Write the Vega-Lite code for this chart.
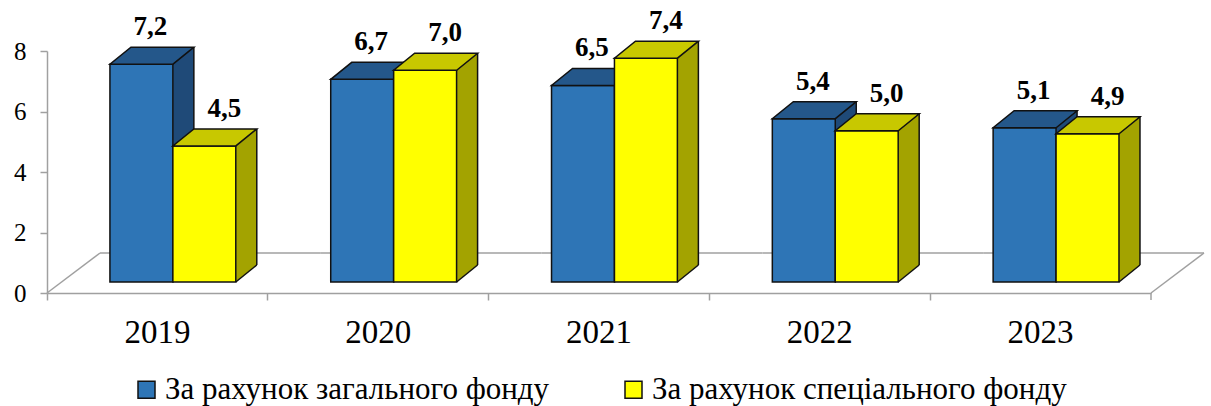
{
  "$schema": "https://vega.github.io/schema/vega-lite/v6.json",
  "width": 1104,
  "height": 242,
  "autosize": {"type": "none"},
  "padding": {"left": 47, "top": 51, "right": 60, "bottom": 113},
  "background": "white",
  "config": {
    "view": {"stroke": null},
    "locale": {"number": {"decimal": ",", "thousands": " ", "grouping": [3], "currency": ["", " грн"]}},
    "scale": {"bandPaddingInner": 0, "bandPaddingOuter": 0},
    "axisX": {"bandPosition": 0, "domainColor": "#A0A0A0", "domainWidth": 1.5, "tickColor": "#A0A0A0", "tickWidth": 1.5, "tickSize": 7, "labelFont": "Liberation Serif", "labelFontSize": 33, "labelColor": "#000000", "labelPadding": 16, "labelAngle": 0, "grid": false},
    "axisY": {"domainColor": "#A0A0A0", "domainWidth": 1.5, "tickColor": "#A0A0A0", "tickWidth": 1.5, "tickSize": 7, "labelFont": "Liberation Serif", "labelFontSize": 25, "labelColor": "#000000", "labelPadding": 14, "grid": false}
  },
  "data": {"values": [
    {"year": "2019", "fund": "За рахунок загального фонду", "value": 7.2},
    {"year": "2019", "fund": "За рахунок спеціального фонду", "value": 4.5},
    {"year": "2020", "fund": "За рахунок загального фонду", "value": 6.7},
    {"year": "2020", "fund": "За рахунок спеціального фонду", "value": 7.0},
    {"year": "2021", "fund": "За рахунок загального фонду", "value": 6.5},
    {"year": "2021", "fund": "За рахунок спеціального фонду", "value": 7.4},
    {"year": "2022", "fund": "За рахунок загального фонду", "value": 5.4},
    {"year": "2022", "fund": "За рахунок спеціального фонду", "value": 5.0},
    {"year": "2023", "fund": "За рахунок загального фонду", "value": 5.1},
    {"year": "2023", "fund": "За рахунок спеціального фонду", "value": 4.9}
  ]},
  "layer": [
    {
      "transform": [{"filter": {"field": "fund", "equal": "За рахунок загального фонду"}}, {"filter": {"field": "year", "equal": "2019"}}],
      "mark": {"type": "rule", "color": "#A0A0A0", "strokeWidth": 1.5, "x2Offset": 53, "y2Offset": -40},
      "encoding": {
        "x": {"field": "year", "type": "nominal", "bandPosition": 0, "title": null},
        "x2": {"field": "year", "bandPosition": 0},
        "y": {"datum": 0, "type": "quantitative", "title": null, "scale": {"domain": [0, 8], "nice": false},
          "axis": {"values": [0, 2, 4, 6, 8], "labelFont": "Liberation Serif", "labelFontSize": 25, "labelColor": "#000000", "labelPadding": 14, "tickSize": 7, "tickColor": "#A0A0A0", "domainColor": "#A0A0A0"}},
        "y2": {"datum": 0}
      }
    },
    {
      "transform": [{"filter": {"field": "fund", "equal": "За рахунок загального фонду"}}],
      "mark": {"type": "rule", "color": "#A0A0A0", "strokeWidth": 1.5, "xOffset": 53, "x2Offset": 53, "yOffset": -40, "y2Offset": -40},
      "encoding": {
        "x": {"field": "year", "type": "nominal", "bandPosition": 0, "title": null},
        "x2": {"field": "year", "bandPosition": 1},
        "y": {"datum": 0, "type": "quantitative", "title": null},
        "y2": {"datum": 0}
      }
    },
    {
      "transform": [{"filter": {"field": "fund", "equal": "За рахунок загального фонду"}}, {"filter": {"field": "year", "equal": "2023"}}],
      "mark": {"type": "rule", "color": "#A0A0A0", "strokeWidth": 1.5, "x2Offset": 53, "y2Offset": -40},
      "encoding": {
        "x": {"field": "year", "type": "nominal", "bandPosition": 1, "title": null},
        "x2": {"field": "year", "bandPosition": 1},
        "y": {"datum": 0, "type": "quantitative", "title": null},
        "y2": {"datum": 0}
      }
    },
    {
      "transform": [{"filter": {"field": "fund", "equal": "За рахунок загального фонду"}}, {"filter": {"field": "year", "equal": "2023"}}],
      "mark": {"type": "rule", "color": "#A0A0A0", "strokeWidth": 1.5, "y2Offset": 7},
      "encoding": {
        "x": {"field": "year", "type": "nominal", "bandPosition": 1, "title": null},
        "y": {"datum": 0, "type": "quantitative", "title": null},
        "y2": {"datum": 0}
      }
    },

    {
      "transform": [{"filter": {"field": "fund", "equal": "За рахунок загального фонду"}}],
      "mark": {"type": "bar", "fill": "#1F4A78", "strokeWidth": 0, "x2Offset": 21, "yOffset": -28, "y2Offset": -28},
      "encoding": {
        "x": {"field": "year", "type": "nominal", "bandPosition": 0.57, "title": null},
        "x2": {"field": "year", "bandPosition": 0.57},
        "y": {"field": "value", "type": "quantitative", "title": null},
        "y2": {"datum": 0}
      }
    },
    {
      "transform": [{"filter": {"field": "fund", "equal": "За рахунок загального фонду"}}],
      "mark": {"type": "point", "shape": "M0,0 L21,-17 L0,-17 Z", "size": 4, "filled": true, "fill": "#1F4A78", "strokeWidth": 0, "opacity": 1, "yOffset": -11},
      "encoding": {
        "x": {"field": "year", "type": "nominal", "bandPosition": 0.57, "title": null},
        "y": {"datum": 0, "type": "quantitative", "title": null}
      }
    },
    {
      "transform": [{"filter": {"field": "fund", "equal": "За рахунок загального фонду"}}],
      "mark": {"type": "bar", "stroke": "#111111", "strokeWidth": 1.5, "yOffset": -11, "y2Offset": -11},
      "encoding": {
        "x": {"field": "year", "type": "nominal", "bandPosition": 0.285, "title": null},
        "x2": {"field": "year", "bandPosition": 0.57},
        "y": {"field": "value", "type": "quantitative", "title": null},
        "y2": {"datum": 0},
        "color": {"field": "fund", "type": "nominal", "title": null,
          "scale": {"domain": ["За рахунок загального фонду", "За рахунок спеціального фонду"], "range": ["#2E75B6", "#FFFF00"]},
          "legend": {"orient": "none", "legendX": 84, "legendY": 323, "direction": "horizontal", "columns": 2, "columnPadding": 68, "padding": 0, "symbolType": "square", "symbolSize": 289, "symbolStrokeColor": "#111111", "symbolStrokeWidth": 1.5, "labelFont": "Liberation Serif", "labelFontSize": 31, "labelColor": "#000000", "labelLimit": 0, "labelOffset": 3}}
      }
    },
    {
      "transform": [{"filter": {"field": "fund", "equal": "За рахунок загального фонду"}}],
      "mark": {"type": "point", "shape": "M0,0 L63,0 L84,-17 L21,-17 Z", "size": 4, "filled": true, "fill": "#24578A", "stroke": "#111111", "strokeWidth": 1.5, "opacity": 1, "yOffset": -11},
      "encoding": {
        "x": {"field": "year", "type": "nominal", "bandPosition": 0.285, "title": null},
        "y": {"field": "value", "type": "quantitative", "title": null}
      }
    },
    {
      "transform": [{"filter": {"field": "fund", "equal": "За рахунок загального фонду"}}],
      "mark": {"type": "rule", "color": "#111111", "strokeWidth": 1.5, "xOffset": 21, "yOffset": -28, "y2Offset": -28},
      "encoding": {
        "x": {"field": "year", "type": "nominal", "bandPosition": 0.57, "title": null},
        "y": {"field": "value", "type": "quantitative", "title": null},
        "y2": {"datum": 0}
      }
    },
    {
      "transform": [{"filter": {"field": "fund", "equal": "За рахунок загального фонду"}}],
      "mark": {"type": "point", "shape": "M0,0 L21,-17", "size": 4, "filled": false, "stroke": "#111111", "strokeWidth": 1.5, "opacity": 1, "yOffset": -11},
      "encoding": {
        "x": {"field": "year", "type": "nominal", "bandPosition": 0.57, "title": null},
        "y": {"datum": 0, "type": "quantitative", "title": null}
      }
    },
    {
      "transform": [{"filter": {"field": "fund", "equal": "За рахунок загального фонду"}}],
      "mark": {"type": "text", "font": "Liberation Serif", "fontWeight": "bold", "fontSize": 27, "color": "#000000", "align": "center", "baseline": "alphabetic", "dx": 9, "dy": -40},
      "encoding": {
        "x": {"field": "year", "type": "nominal", "bandPosition": 0.4275, "title": null},
        "y": {"field": "value", "type": "quantitative", "title": null},
        "text": {"field": "value", "type": "quantitative", "format": ".1f"}
      }
    },

    {
      "transform": [{"filter": {"field": "fund", "equal": "За рахунок спеціального фонду"}}],
      "mark": {"type": "bar", "fill": "#A3A300", "strokeWidth": 0, "x2Offset": 21, "yOffset": -28, "y2Offset": -28},
      "encoding": {
        "x": {"field": "year", "type": "nominal", "bandPosition": 0.855, "title": null},
        "x2": {"field": "year", "bandPosition": 0.855},
        "y": {"field": "value", "type": "quantitative", "title": null},
        "y2": {"datum": 0}
      }
    },
    {
      "transform": [{"filter": {"field": "fund", "equal": "За рахунок спеціального фонду"}}],
      "mark": {"type": "point", "shape": "M0,0 L21,-17 L0,-17 Z", "size": 4, "filled": true, "fill": "#A3A300", "strokeWidth": 0, "opacity": 1, "yOffset": -11},
      "encoding": {
        "x": {"field": "year", "type": "nominal", "bandPosition": 0.855, "title": null},
        "y": {"datum": 0, "type": "quantitative", "title": null}
      }
    },
    {
      "transform": [{"filter": {"field": "fund", "equal": "За рахунок спеціального фонду"}}],
      "mark": {"type": "bar", "stroke": "#111111", "strokeWidth": 1.5, "yOffset": -11, "y2Offset": -11},
      "encoding": {
        "x": {"field": "year", "type": "nominal", "bandPosition": 0.57, "title": null},
        "x2": {"field": "year", "bandPosition": 0.855},
        "y": {"field": "value", "type": "quantitative", "title": null},
        "y2": {"datum": 0},
        "color": {"field": "fund", "type": "nominal", "title": null}
      }
    },
    {
      "transform": [{"filter": {"field": "fund", "equal": "За рахунок спеціального фонду"}}],
      "mark": {"type": "point", "shape": "M0,0 L63,0 L84,-17 L21,-17 Z", "size": 4, "filled": true, "fill": "#C8C800", "stroke": "#111111", "strokeWidth": 1.5, "opacity": 1, "yOffset": -11},
      "encoding": {
        "x": {"field": "year", "type": "nominal", "bandPosition": 0.57, "title": null},
        "y": {"field": "value", "type": "quantitative", "title": null}
      }
    },
    {
      "transform": [{"filter": {"field": "fund", "equal": "За рахунок спеціального фонду"}}],
      "mark": {"type": "rule", "color": "#111111", "strokeWidth": 1.5, "xOffset": 21, "yOffset": -28, "y2Offset": -28},
      "encoding": {
        "x": {"field": "year", "type": "nominal", "bandPosition": 0.855, "title": null},
        "y": {"field": "value", "type": "quantitative", "title": null},
        "y2": {"datum": 0}
      }
    },
    {
      "transform": [{"filter": {"field": "fund", "equal": "За рахунок спеціального фонду"}}],
      "mark": {"type": "point", "shape": "M0,0 L21,-17", "size": 4, "filled": false, "stroke": "#111111", "strokeWidth": 1.5, "opacity": 1, "yOffset": -11},
      "encoding": {
        "x": {"field": "year", "type": "nominal", "bandPosition": 0.855, "title": null},
        "y": {"datum": 0, "type": "quantitative", "title": null}
      }
    },
    {
      "transform": [{"filter": {"field": "fund", "equal": "За рахунок спеціального фонду"}}],
      "mark": {"type": "text", "font": "Liberation Serif", "fontWeight": "bold", "fontSize": 27, "color": "#000000", "align": "center", "baseline": "alphabetic", "dx": 20, "dy": -40},
      "encoding": {
        "x": {"field": "year", "type": "nominal", "bandPosition": 0.7125, "title": null},
        "y": {"field": "value", "type": "quantitative", "title": null},
        "text": {"field": "value", "type": "quantitative", "format": ".1f"}
      }
    }
  ]
}
